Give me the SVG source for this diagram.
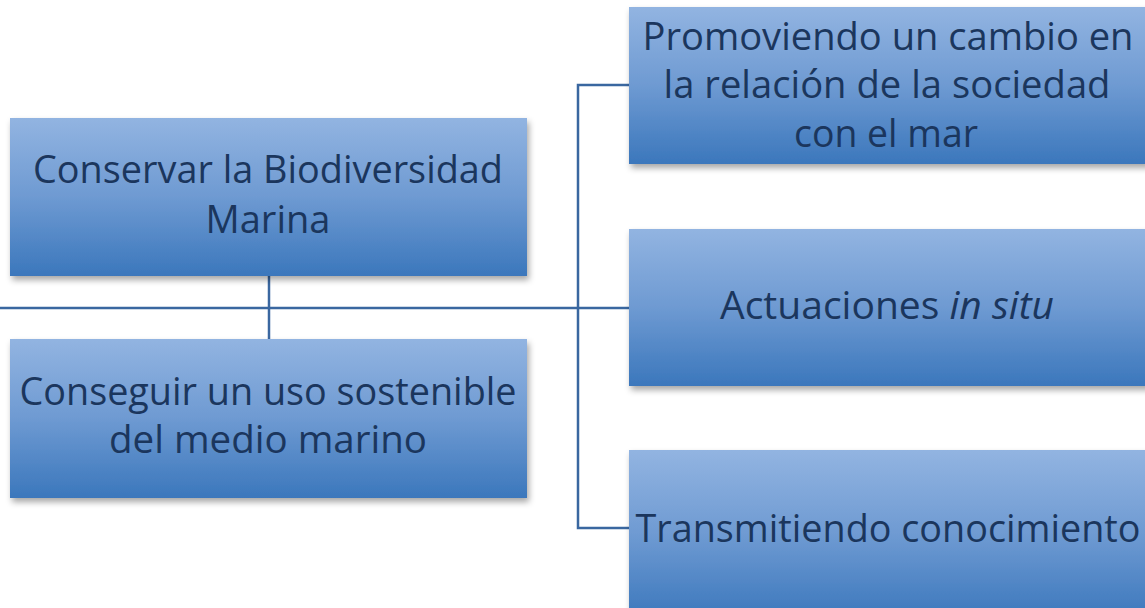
<svg xmlns="http://www.w3.org/2000/svg" width="1145" height="608" viewBox="0 0 1145 608">
<style>
.box{fill:url(#g);filter:url(#sh)}
.t{font-family:"Open Sans","Liberation Sans",sans-serif;font-size:38px;fill:#1B365D;text-anchor:middle}
.c{fill:none;stroke:#3A67A0;stroke-width:2.5}
</style>
<defs>
<linearGradient id="g" x1="0" y1="0" x2="0" y2="1">
<stop offset="0" stop-color="#92B4E1"/>
<stop offset="0.5" stop-color="#6E9AD2"/>
<stop offset="1" stop-color="#3B77BC"/>
</linearGradient>
<filter id="sh" x="-5%" y="-5%" width="115%" height="125%">
<feDropShadow dx="2" dy="4" stdDeviation="3" flood-color="#000" flood-opacity="0.35"/>
</filter>
</defs>
<rect width="1145" height="608" fill="#fff"/>
<g id="connectors">
<path class="c" d="M0 308H630"/>
<path class="c" d="M269 276V339"/>
<path class="c" d="M630 85H578V528H630"/>
</g>
<g id="n1"><rect class="box" x="10" y="118" width="517" height="158"/>
<text class="t" x="268" y="183" textLength="470" lengthAdjust="spacingAndGlyphs">Conservar la Biodiversidad</text>
<text class="t" x="268" y="233" textLength="125" lengthAdjust="spacingAndGlyphs">Marina</text></g>
<g id="n2"><rect class="box" x="10" y="339" width="517" height="159"/>
<text class="t" x="268" y="405" textLength="497" lengthAdjust="spacingAndGlyphs">Conseguir un uso sostenible</text>
<text class="t" x="268" y="453" textLength="318" lengthAdjust="spacingAndGlyphs">del medio marino</text></g>
<g id="n3"><rect class="box" x="629" y="7" width="520" height="157"/>
<text class="t" x="888" y="50" textLength="491" lengthAdjust="spacingAndGlyphs">Promoviendo un cambio en</text>
<text class="t" x="887" y="98" textLength="447" lengthAdjust="spacingAndGlyphs">la relación de la sociedad</text>
<text class="t" x="886" y="147" textLength="184" lengthAdjust="spacingAndGlyphs">con el mar</text></g>
<g id="n4"><rect class="box" x="629" y="229" width="520" height="157"/>
<text class="t" x="887" y="319" textLength="334" lengthAdjust="spacingAndGlyphs">Actuaciones <tspan font-style="italic">in situ</tspan></text></g>
<g id="n5"><rect class="box" x="629" y="450" width="520" height="170"/>
<text class="t" x="888" y="542" textLength="505" lengthAdjust="spacingAndGlyphs">Transmitiendo conocimiento</text></g>
</svg>
